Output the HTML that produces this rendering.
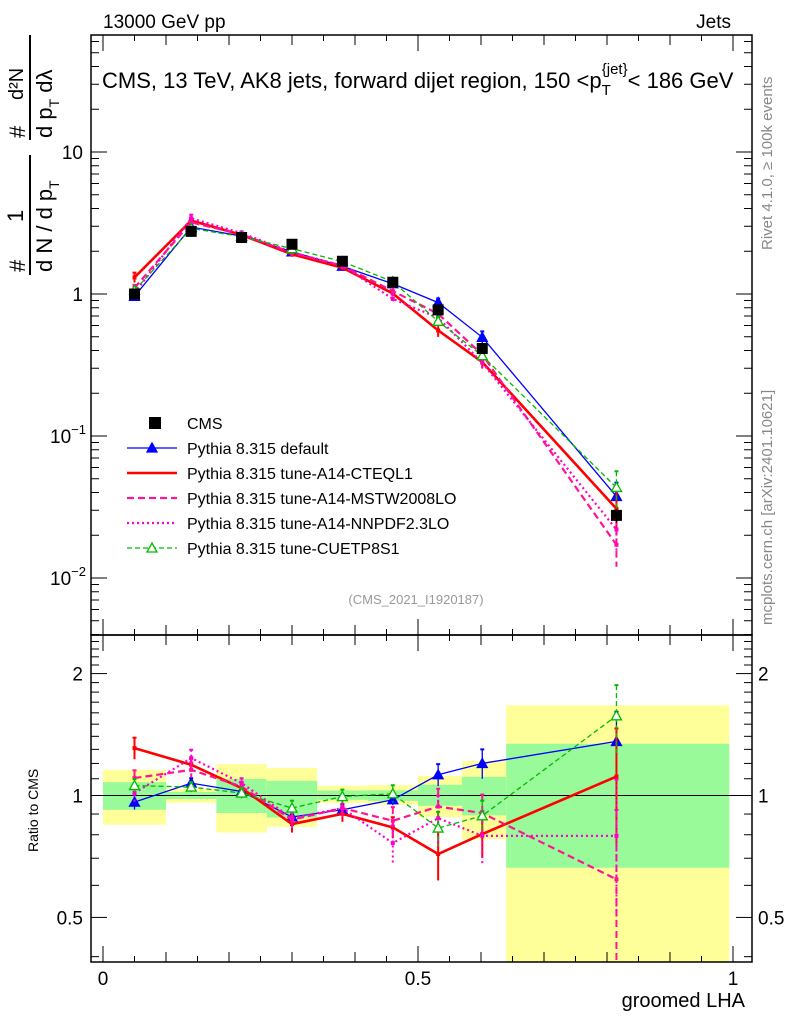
<!DOCTYPE html>
<html><head><meta charset="utf-8"><style>
html,body{margin:0;padding:0;background:#fff;}
svg text{font-family:"Liberation Sans",sans-serif;}
</style></head><body>
<svg id="c" width="786" height="1024" viewBox="0 0 786 1024" xmlns="http://www.w3.org/2000/svg">
<g id="bands"></g>
<g id="axes"></g>
<g id="series"></g>
<text x="103" y="28" font-size="19">13000 GeV pp</text>
<text x="731" y="28" font-size="19" text-anchor="end">Jets</text>
<text x="102" y="88" font-size="22">CMS, 13 TeV, AK8 jets, forward dijet region, 150 &lt;p<tspan font-size="15" dy="7">T</tspan><tspan font-size="15" dx="-9" dy="-21">{jet}</tspan><tspan dy="14">&lt; 186 GeV</tspan></text>
<text x="416" y="604" font-size="13" fill="#999" text-anchor="middle">(CMS_2021_I1920187)</text>
<text transform="translate(772,250) rotate(-90)" font-size="15" fill="#888">Rivet 4.1.0, ≥ 100k events</text>
<text transform="translate(772,625) rotate(-90)" font-size="15" fill="#888">mcplots.cern.ch [arXiv:2401.10621]</text>
<g font-size="22">
<text transform="translate(25,272) rotate(-90)">#</text>
<text transform="translate(23,222) rotate(-90)" font-size="22">1</text>
<line x1="30" y1="275" x2="30" y2="155" stroke="#000" stroke-width="2"/>
<text transform="translate(52,272) rotate(-90)">d N / d p<tspan font-size="14" dy="7">T</tspan></text>
<text transform="translate(25,138) rotate(-90)">#</text>
<text transform="translate(23,100) rotate(-90)" font-size="20">d²N</text>
<line x1="30" y1="140" x2="30" y2="35" stroke="#000" stroke-width="2"/>
<text transform="translate(52,138) rotate(-90)">d p<tspan font-size="14" dy="7">T</tspan><tspan dy="-7"> dλ</tspan></text>
</g>
<text transform="translate(38,852) rotate(-90)" font-size="14">Ratio to CMS</text>
<text x="745" y="1007" font-size="20" text-anchor="end">groomed LHA</text>
<g id="legend"></g>
</svg>
<script>
const edges=[0,0.1,0.18,0.26,0.34,0.42,0.5,0.57,0.64,0.994];
const xs=[0.05,0.14,0.22,0.3,0.38,0.46,0.532,0.602,0.815];
const cms=[1.0,2.76,2.5,2.24,1.70,1.21,0.773,0.413,0.0276];
const cmsErr=[0.03,0.06,0.05,0.05,0.04,0.04,0.03,0.02,0.003];
const yellowHi=[1.157,1.04,1.195,1.17,1.057,1.06,1.118,1.216,1.67];
const yellowLo=[0.847,0.96,0.81,0.837,0.958,0.95,0.884,0.78,0.3];
const greenHi=[1.079,1.02,1.099,1.087,1.029,1.03,1.063,1.112,1.342];
const greenLo=[0.922,0.98,0.905,0.882,0.976,0.97,0.943,0.893,0.663];
const rDefault=[0.963,1.073,1.023,0.885,0.922,0.976,1.125,1.2,1.36];
const rCteq=[1.309,1.191,1.043,0.85,0.901,0.834,0.717,0.803,1.114];
const rMstw=[1.104,1.157,1.052,0.871,0.931,0.866,0.939,0.905,0.621];
const rNnpdf=[1.014,1.237,1.073,0.879,0.931,0.763,0.879,0.795,0.795];
const rCuetp=[1.058,1.049,1.014,0.931,0.994,1.01,0.831,0.891,1.573];
const eDefault=[0.04,0.03,0.02,0.03,0.03,0.03,0.07,0.1,0.25];
const eCteq=[0.08,0.04,0.03,0.04,0.04,0.05,0.1,0.1,0.35];
const eMstw=[0.05,0.05,0.03,0.05,0.05,0.07,0.1,0.1,0.3];
const eNnpdf=[0.05,0.06,0.03,0.05,0.05,0.08,0.12,0.12,0.3];
const eCuetp=[0.04,0.03,0.03,0.04,0.04,0.05,0.08,0.08,0.3];
const labels=["CMS","Pythia 8.315 default","Pythia 8.315 tune-A14-CTEQL1","Pythia 8.315 tune-A14-MSTW2008LO","Pythia 8.315 tune-A14-NNPDF2.3LO","Pythia 8.315 tune-CUETP8S1"];

const NS="http://www.w3.org/2000/svg";
const L=91,R=752,T=35,M=635,B=962;
const X=v=>103+v*630;
const Y=v=>294-Math.log10(v)*142;
const RY=v=>795.5-Math.log10(v)*405;
function mk(p,tag,a){const e=document.createElementNS(NS,tag);for(const k in a)e.setAttribute(k,a[k]);p.appendChild(e);return e;}
const gB=document.getElementById('bands'),gA=document.getElementById('axes'),gS=document.getElementById('series'),gL=document.getElementById('legend');
for(let i=0;i<xs.length;i++){
 const x0=X(edges[i]),x1=X(edges[i+1]);
 let e=mk(gB,'rect',{x:x0,y:RY(yellowHi[i]),width:x1-x0,height:Math.min(B,RY(yellowLo[i]))-RY(yellowHi[i]),fill:'#ffff99'});
 
 e=mk(gB,'rect',{x:x0,y:RY(greenHi[i]),width:x1-x0,height:RY(greenLo[i])-RY(greenHi[i]),fill:'#99fa99'});
 
}
mk(gA,'rect',{x:L,y:T,width:R-L,height:M-T,fill:'none',stroke:'#000','stroke-width':1.5});
mk(gA,'rect',{x:L,y:M,width:R-L,height:B-M,fill:'none',stroke:'#000','stroke-width':1.5});
mk(gA,'line',{x1:L,x2:R,y1:RY(1),y2:RY(1),stroke:'#000','stroke-width':1});
for(let d=-3;d<=1;d++)for(let m=1;m<10;m++){const v=m*Math.pow(10,d);const y=Y(v);if(y<T||y>M)continue;const len=m==1?16:8;
 mk(gA,'line',{x1:L,x2:L+len,y1:y,y2:y,stroke:'#000'});mk(gA,'line',{x1:R,x2:R-len,y1:y,y2:y,stroke:'#000'});}
const yl=[["10",10],["1",1]];
for(const [t,v] of yl){const e=mk(gA,'text',{x:83,y:Y(v)+7,'font-size':19,'text-anchor':'end'});e.textContent=t;}
for(const [d,v] of [[-1,0.1],[-2,0.01]]){const e=mk(gA,'text',{x:50,y:Y(v)+7,'font-size':19});e.innerHTML='10<tspan font-size="13" dy="-9">'+(d==-1?'−1':'−2')+'</tspan>';}
for(let v=0.4;v<=2.45;v+=0.1){const vv=Math.round(v*10)/10;const y=RY(vv);if(y<M||y>B)continue;const maj=(vv==0.5||vv==1||vv==2);const len=maj?16:8;
 mk(gA,'line',{x1:L,x2:L+len,y1:y,y2:y,stroke:'#000'});mk(gA,'line',{x1:R,x2:R-len,y1:y,y2:y,stroke:'#000'});}
for(const v of [2,1,0.5]){let e=mk(gA,'text',{x:83,y:RY(v)+7,'font-size':19,'text-anchor':'end'});e.textContent=String(v);
 e=mk(gA,'text',{x:758,y:RY(v)+7,'font-size':19});e.textContent=String(v);}
for(let k=0;k<=20;k++){const v=k/20;const x=X(v);const len=(k%10==0)?16:(k%2==0?10:6);
 for(const [yb,dir] of [[M,-1],[B,-1],[T,1],[M,1]]){mk(gA,'line',{x1:x,x2:x,y1:yb,y2:yb+dir*len,stroke:'#000'});}}
for(const [t,v] of [["0",0],["0.5",0.5],["1",1]]){const e=mk(gA,'text',{x:X(v),y:985,'font-size':19,'text-anchor':'middle'});e.textContent=t;}
function tri(p,x,y,col,fill){return mk(p,'polygon',{points:`${x},${y-5} ${x-5},${y+4} ${x+5},${y+4}`,fill:fill?col:'#fff',stroke:col,'stroke-width':1.3});}
const models=[
 {r:rDefault,e:eDefault,col:'#0000ff',w:1.3,dash:'',mark:'tri',name:'pythia-default'},
 {r:rCteq,e:eCteq,col:'#ff0000',w:2.6,dash:'',mark:'none',name:'pythia-a14-cteql1'},
 {r:rMstw,e:eMstw,col:'#ff1493',w:2.2,dash:'7,4',mark:'none',name:'pythia-a14-mstw2008lo'},
 {r:rNnpdf,e:eNnpdf,col:'#ff00cc',w:2.2,dash:'2,3',mark:'none',name:'pythia-a14-nnpdf23lo'},
 {r:rCuetp,e:eCuetp,col:'#00bb00',w:1.3,dash:'5,3',mark:'otri',name:'pythia-cuetp8s1'}];
models.forEach((m,mi)=>{
 const g=mk(gS,'g',{});
 const main=xs.map((x,i)=>[X(x),Y(cms[i]*m.r[i])]);
 const rat=xs.map((x,i)=>[X(x),RY(m.r[i])]);
 for(const pts of [main,rat]){const e=mk(g,'polyline',{points:pts.map(p=>p.join(',')).join(' '),fill:'none',stroke:m.col,'stroke-width':m.w,'stroke-dasharray':m.dash});
  }
 xs.forEach((x,i)=>{const px=X(x);
  const v=cms[i]*m.r[i];
  const y1=Y(v*(1+m.e[i])),y2=Y(Math.max(v*(1-m.e[i]),1e-4));
  const r1=RY(m.r[i]+m.e[i]),r2=RY(Math.max(m.r[i]-m.e[i],0.3));
  for(const [a,b] of [[y1,y2],[r1,r2]]){mk(g,'line',{x1:px,x2:px,y1:a,y2:Math.min(b,B),stroke:m.col,'stroke-width':m.w>2?2:1.3,'stroke-dasharray':m.dash});
   mk(g,'line',{x1:px-2,x2:px+2,y1:a,y2:a,stroke:m.col,'stroke-width':2});}
  for(const yy of [Y(v),RY(m.r[i])]){
   let e;
   if(m.mark=='tri')e=tri(g,px,yy,m.col,true);
   else if(m.mark=='otri')e=tri(g,px,yy,m.col,false);
   else e=mk(g,'rect',{x:px-2,y:yy-2,width:4,height:4,fill:m.col});
   }
 });
});
const gc=mk(gS,'g',{});
xs.forEach((x,i)=>{const px=X(x),py=Y(cms[i]);
 mk(gc,'line',{x1:px,x2:px,y1:Y(cms[i]+cmsErr[i]),y2:Y(cms[i]-cmsErr[i]),stroke:'#000','stroke-width':1.3});
 const e=mk(gc,'rect',{x:px-5.5,y:py-5.5,width:11,height:11,fill:'#000'});
 });
labels.forEach((t,i)=>{const y=423+i*25;const g=mk(gL,'g',{});
 
 if(i==0){mk(g,'rect',{x:149,y:y-6,width:12,height:12,fill:'#000'});}
 else{const m=models[i-1];mk(g,'line',{x1:127,x2:177,y1:y,y2:y,stroke:m.col,'stroke-width':m.w,'stroke-dasharray':m.dash});
  if(m.mark=='tri')tri(g,152,y,m.col,true);if(m.mark=='otri')tri(g,152,y,m.col,false);}
 const e=mk(g,'text',{x:187,y:y+6,'font-size':16});e.textContent=t;});
</script>
</body></html>
